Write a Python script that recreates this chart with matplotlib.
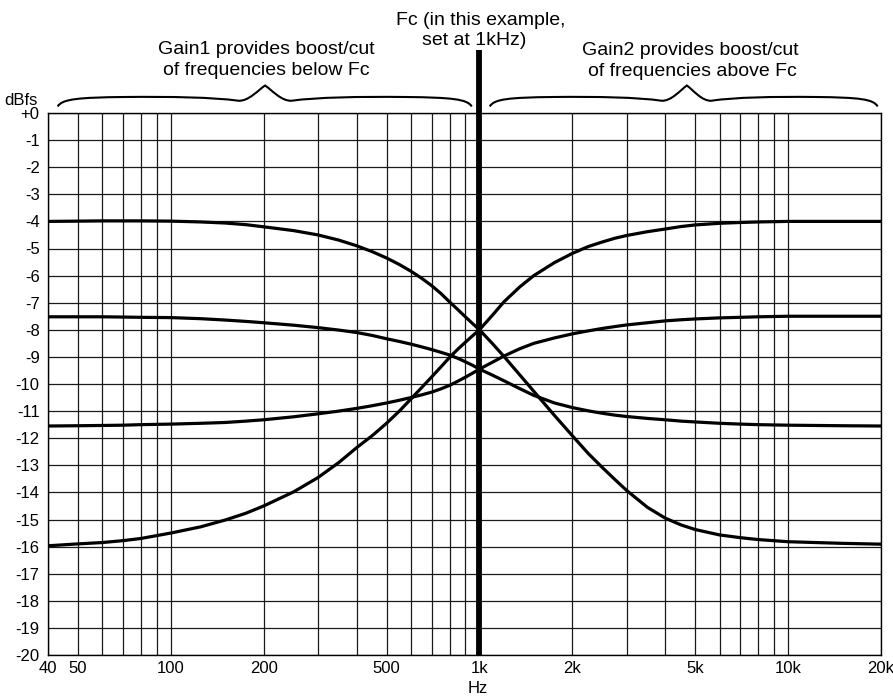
import numpy as np
import matplotlib
matplotlib.use("Agg")
import matplotlib.pyplot as plt
from matplotlib.path import Path
from matplotlib.patches import PathPatch

plt.rcParams['font.family'] = ['Liberation Sans', 'DejaVu Sans']

# ---------------- data ----------------
freqs = [40, 50, 60, 70, 80, 100, 125, 150, 175, 200, 250, 300, 350, 400, 450, 500,
         550, 600, 650, 700, 750, 800, 850, 900, 950, 1000, 1100, 1200, 1350, 1500,
         1750, 2000, 2250, 2500, 2750, 3000, 3500, 4000, 4500, 5000, 6000, 7000, 8000,
         10000, 15000, 20000]

# low boost / high cut (starts -4, ends -16)
tilt_a = [-4.00, -3.99, -3.98, -3.98, -3.98, -3.99, -4.02, -4.06, -4.12, -4.20, -4.34, -4.50,
          -4.69, -4.90, -5.12, -5.35, -5.59, -5.84, -6.10, -6.37, -6.66, -6.97, -7.25, -7.52,
          -7.77, -8.00, -8.50, -8.98, -9.66, -10.27, -11.16, -11.91, -12.56, -13.08, -13.53,
          -13.93, -14.55, -14.95, -15.20, -15.37, -15.57, -15.67, -15.74, -15.82, -15.88, -15.91]
# low cut / high boost (starts -16, ends -4)
tilt_b = [-15.97, -15.90, -15.85, -15.78, -15.70, -15.50, -15.27, -15.02, -14.77, -14.50, -13.98,
          -13.45, -12.90, -12.35, -11.90, -11.45, -11.00, -10.55, -10.13, -9.74, -9.37, -9.02,
          -8.72, -8.46, -8.22, -8.00, -7.47, -6.97, -6.42, -6.00, -5.52, -5.18, -4.93, -4.76,
          -4.62, -4.52, -4.38, -4.28, -4.19, -4.13, -4.07, -4.04, -4.02, -4.00, -4.00, -4.00]
# gentle: starts -7.5, ends -11.5
tilt_c = [-7.52, -7.52, -7.52, -7.53, -7.54, -7.55, -7.59, -7.64, -7.69, -7.74, -7.83, -7.92,
          -8.01, -8.10, -8.21, -8.33, -8.43, -8.53, -8.63, -8.73, -8.83, -8.93, -9.05, -9.18,
          -9.31, -9.45, -9.67, -9.88, -10.17, -10.42, -10.70, -10.87, -10.99, -11.08, -11.15,
          -11.20, -11.27, -11.32, -11.37, -11.40, -11.45, -11.48, -11.50, -11.52, -11.54, -11.55]
# gentle: starts -11.5, ends -7.5
tilt_d = [-11.55, -11.54, -11.53, -11.52, -11.50, -11.48, -11.45, -11.42, -11.37, -11.32, -11.21,
          -11.10, -11.00, -10.90, -10.80, -10.70, -10.60, -10.50, -10.40, -10.30, -10.18, -10.05,
          -9.90, -9.75, -9.60, -9.45, -9.20, -8.97, -8.70, -8.50, -8.30, -8.15, -8.04, -7.95,
          -7.88, -7.82, -7.74, -7.67, -7.63, -7.60, -7.56, -7.54, -7.52, -7.50, -7.50, -7.50]

xtick_vals = [40, 50, 100, 200, 500, 1000, 2000, 5000, 10000, 20000]
xtick_labels = ['40', '50', '100', '200', '500', '1k', '2k', '5k', '10k', '20k']
xgrid_minor = [60, 70, 80, 90, 300, 400, 600, 700, 800, 900,
               3000, 4000, 6000, 7000, 8000, 9000]
ytick_vals = list(range(0, -21, -1))
ytick_labels = ['+0'] + [str(v) for v in range(-1, -21, -1)]
fc = 1000

# ---------------- figure ----------------
W, H = 893, 696
fig = plt.figure(figsize=(W / 100, H / 100), dpi=100)
AX_L, AX_R, AX_T, AX_B = 48, 881, 113, 655
ax = fig.add_axes([AX_L / W, 1 - AX_B / H, (AX_R - AX_L) / W, (AX_B - AX_T) / H])

ax.set_xscale('log')
ax.set_xlim(40, 20000)
ax.set_ylim(-20, 0)

ax.set_xticks(xtick_vals)
ax.set_xticklabels(xtick_labels)
ax.set_xticks(xgrid_minor, minor=True)
ax.xaxis.set_minor_formatter(matplotlib.ticker.NullFormatter())
ax.set_yticks(ytick_vals)
ax.set_yticklabels(ytick_labels)
ax.tick_params(axis='both', which='both', length=0, labelsize=12, colors='black')
ax.tick_params(axis='x', pad=4)
ax.tick_params(axis='y', pad=6)
ax.grid(True, which='both', color='#1a1a1a', linewidth=0.9)
ax.set_axisbelow(True)
for s in ax.spines.values():
    s.set_color('black')
    s.set_linewidth(1.0)

for series in (tilt_a, tilt_b, tilt_c, tilt_d):
    ax.plot(freqs, series, color='black', linewidth=2.3, solid_capstyle='butt',
            solid_joinstyle='round', zorder=3)

# thick Fc line extending above the plot
top_val = -(50 - AX_T) / (AX_B - AX_T) * 20
ax.vlines(fc, -20, top_val, color='black', linewidth=4.2, clip_on=False, zorder=4)


def P(x, y):
    return (x / W, 1 - y / H)


def xpix(f):
    return AX_L + (AX_R - AX_L) * np.log10(f / 40) / np.log10(20000 / 40)


# texts
fs_big = 14
fig.text(*P(481, 25), 'Fc (in this example,', ha='center', va='baseline', fontsize=fs_big)
fig.text(*P(474, 45), 'set at 1kHz)', ha='center', va='baseline', fontsize=fs_big)
fig.text(*P(266, 54), 'Gain1 provides boost/cut', ha='center', va='baseline', fontsize=fs_big)
fig.text(*P(266, 75), 'of frequencies below Fc', ha='center', va='baseline', fontsize=fs_big)
fig.text(*P(690, 55), 'Gain2 provides boost/cut', ha='center', va='baseline', fontsize=fs_big)
fig.text(*P(692, 76), 'of frequencies above Fc', ha='center', va='baseline', fontsize=fs_big)
fig.text(*P(21, 105), 'dBfs', ha='center', va='baseline', fontsize=12)
fig.text(*P(478, 693), 'Hz', ha='center', va='baseline', fontsize=12)


def brace(x0, xm, x1, y_end=106.5, y_plat=97.5, y_tip=85.5):
    def half(xa, xb, sign):
        h = abs(xb - xa)
        def X(d):
            return xa + sign * d * h
        return [
            (X(0.0), y_end),
            (X(0.02), y_plat + 1.5), (X(0.10), y_plat), (X(0.32), y_plat - 0.5),
            (X(0.55), y_plat - 1.0), (X(0.75), y_plat - 0.2), (X(0.87), y_plat + 3.2),
            (X(0.92), y_plat + 4.2), (X(0.97), y_tip + 4.0), (X(1.0), y_tip),
        ]
    left = half(x0, xm, 1)
    right = half(x1, xm, -1)
    verts = left + right[::-1][1:]
    codes = [Path.MOVETO] + [Path.CURVE4] * 9 + [Path.CURVE4] * 9
    verts = [P(x, y) for x, y in verts]
    patch = PathPatch(Path(verts, codes), transform=fig.transFigure, fill=False,
                      edgecolor='black', linewidth=1.5)
    fig.add_artist(patch)


brace(xpix(43), xpix(202), xpix(944))
brace(xpix(1080), xpix(4700), xpix(19500))

fig.savefig('out.png', dpi=100)
